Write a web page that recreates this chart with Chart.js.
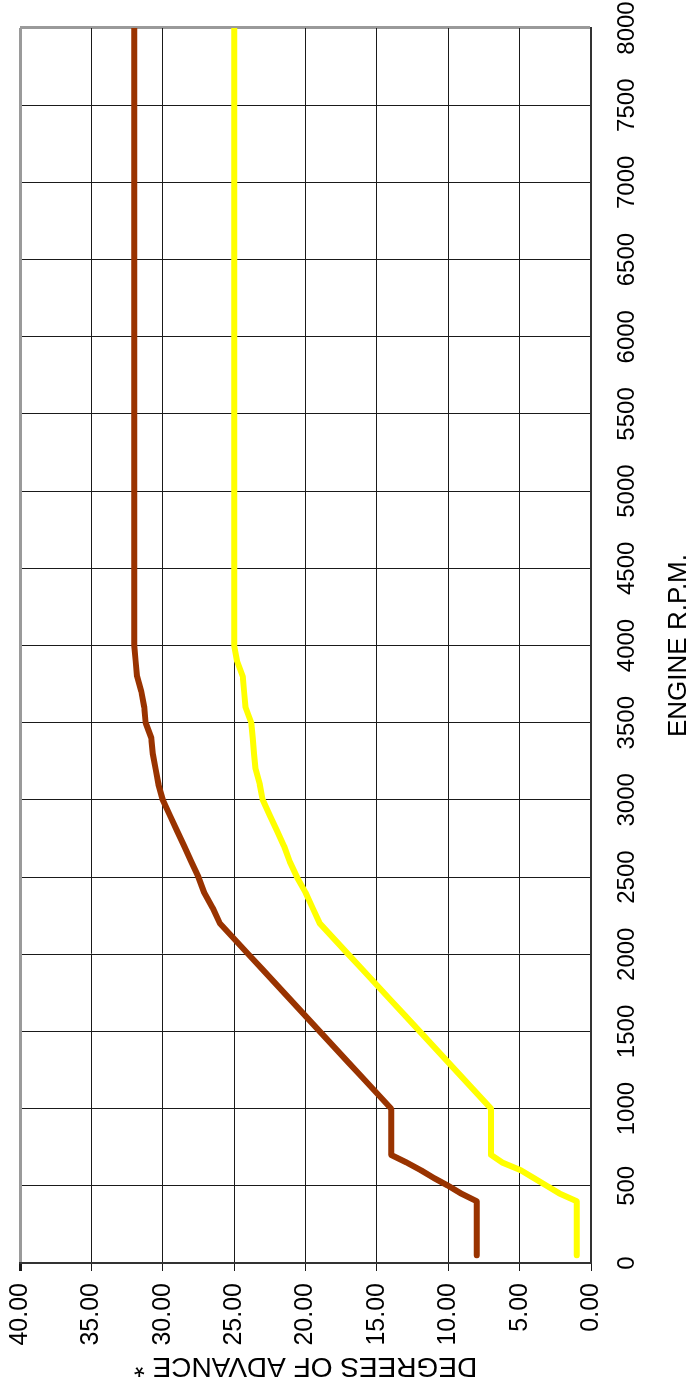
<!DOCTYPE html>
<html>
<head>
<meta charset="utf-8">
<script src="https://cdn.jsdelivr.net/npm/chart.js@4/dist/chart.umd.min.js"></script>
<style>
  html, body { margin: 0; padding: 0; background: #fff; overflow: hidden; }
  #wrap {
    position: absolute; left: 0; top: 0;
    width: 1397px; height: 696px;
    transform-origin: 0 0;
    transform: translateY(1397px) rotate(-90deg);
  }
  canvas { display: block; }
</style>
</head>
<body>
<div id="wrap"><canvas id="c" width="1397" height="696"></canvas></div>
<script>
// Engine speed (R.P.M.)
const rpm = [50, 400, 450, 500, 550, 600, 650, 700, 1000, 1100, 1200, 1300, 1400, 1500, 1600, 1700, 1800, 1900, 2000,
             2100, 2200, 2300, 2400, 2500, 2600, 2700, 2800, 2900, 3000, 3100, 3200, 3300, 3400, 3500, 3600,
             3700, 3800, 3900, 4000, 8000];
// Degrees of advance – upper (brown) curve
const advanceUpper = [8, 8, 9.1, 10, 11, 11.9, 12.9, 14, 14, 15, 16, 17, 18, 19, 20, 21, 22, 23, 24,
                      25, 26, 26.5, 27.1, 27.5, 28, 28.5, 29, 29.5, 30, 30.3, 30.5, 30.7, 30.8, 31.2, 31.3,
                      31.5, 31.8, 31.9, 32, 32];
// Degrees of advance – lower (yellow) curve
const advanceLower = [1, 1, 2.2, 3.1, 4, 4.9, 6.2, 7, 7, 8, 9, 10, 11, 12, 13, 14, 15, 16, 17,
                      18, 19, 19.5, 20, 20.6, 21.1, 21.5, 22, 22.5, 23, 23.2, 23.5, 23.6, 23.7, 23.8, 24.2,
                      24.3, 24.4, 24.8, 25, 25];
// Axis settings
const rpmTicks = { min: 0, max: 8000, step: 500 };
const degTicks = { min: 0, max: 40, step: 5 };
const xTitle = 'ENGINE R.P.M.';
const yTitle = 'DEGREES OF ADVANCE *';

const FONT = "'Liberation Sans', Arial, Helvetica, sans-serif";
const toPts = (ys) => rpm.map((x, i) => ({ x: x, y: ys[i] }));

new Chart(document.getElementById('c'), {
  type: 'line',
  data: {
    datasets: [
      { data: toPts(advanceUpper), borderColor: '#993300', borderWidth: 6, pointRadius: 0,
        tension: 0, borderCapStyle: 'round', borderJoinStyle: 'round', fill: false },
      { data: toPts(advanceLower), borderColor: '#FFFF00', borderWidth: 6, pointRadius: 0,
        tension: 0, borderCapStyle: 'round', borderJoinStyle: 'round', fill: false }
    ]
  },
  options: {
    responsive: false,
    devicePixelRatio: 1,
    animation: false,
    events: [],
    layout: { padding: { top: 20, right: 28, left: 0, bottom: 0 } },
    plugins: { legend: { display: false }, tooltip: { enabled: false } },
    scales: {
      x: {
        type: 'linear',
        min: rpmTicks.min, max: rpmTicks.max,
        ticks: { stepSize: rpmTicks.step, color: '#000', padding: 22, maxRotation: 0, autoSkip: false,
                 callback: (v) => String(v),
                 font: { family: FONT, size: 24 } },
        grid: {
          drawTicks: false,
          color: (c) => (c.tick && c.tick.value === rpmTicks.max) ? '#9a9a9a' : '#1a1a1a',
          lineWidth: (c) => (c.tick && c.tick.value === rpmTicks.max) ? 3 : 1
        },
        border: { display: true, color: '#333', width: 2 },
        title: { display: true, text: xTitle, color: '#000', font: { family: FONT, size: 26 },
                 padding: { top: 0, bottom: 2 } },
        afterFit: (s) => { s.height = 105; s.paddingLeft = 0; s.paddingRight = 0; }
      },
      y: {
        type: 'linear',
        min: degTicks.min, max: degTicks.max,
        ticks: { stepSize: degTicks.step, color: '#000', padding: 12,
                 callback: (v) => Number(v).toFixed(2),
                 font: { family: FONT, size: 25 } },
        grid: {
          tickLength: 8,
          tickColor: '#1a1a1a',
          color: (c) => (c.tick && c.tick.value === degTicks.max) ? '#9a9a9a' : '#1a1a1a',
          lineWidth: (c) => (c.tick && c.tick.value === degTicks.max) ? 3 : 1
        },
        border: { display: true, color: '#333', width: 2 },
        title: { display: true, text: yTitle, color: '#000', font: { family: FONT, size: 28 },
                 padding: { top: 14, bottom: 0 } },
        afterFit: (s) => { s.width = 134; s.paddingTop = 0; s.paddingBottom = 0; }
      }
    }
  }
});
</script>
</body>
</html>
